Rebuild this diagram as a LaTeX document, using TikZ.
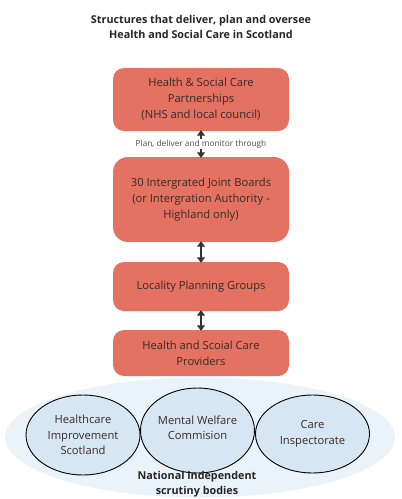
\documentclass[tikz,border=0pt]{standalone}
\usepackage{fontspec}
\setmainfont{Open Sans}
\usetikzlibrary{arrows.meta,shapes.geometric}
\definecolor{boxred}{HTML}{E37262}
\definecolor{boxtext}{HTML}{3A2A28}
\definecolor{paleblue}{HTML}{EAF3FA}
\definecolor{ovalblue}{HTML}{D6E7F3}
\definecolor{arrowgrey}{HTML}{333333}
\begin{document}
\begin{tikzpicture}[x=1pt,y=-1pt,
  redbox/.style={fill=boxred,rounded corners=11pt,minimum width=176pt,text=boxtext,
    font=\fontsize{11.2}{16}\selectfont,align=center,inner sep=0pt},
  oval/.style={ellipse,draw=black,line width=0.9pt,fill=ovalblue,minimum width=114pt,
    text=boxtext,font=\fontsize{11.2}{15.5}\selectfont,align=center,inner sep=0pt},
  link/.style={draw=arrowgrey,line width=1.1pt,{Triangle[width=8pt,length=5.5pt]}-{Triangle[width=8pt,length=5.5pt]}},
  half/.style={draw=arrowgrey,line width=1.1pt,-{Triangle[width=8pt,length=5.5pt]}}]
\useasboundingbox (0,0) rectangle (402,499);
\fill[white] (0,0) rectangle (402,499);
\node[font=\bfseries\fontsize{10.8}{15}\selectfont,text=black!85,align=center] (title) at (201,26.5)
  {Structures that deliver, plan and oversee\\Health and Social Care in Scotland};
\node[redbox,minimum height=63pt] (b1) at (201,99.5)
  {Health \& Social Care\\Partnerships\\(NHS and local council)};
\node[redbox,minimum height=85pt,rounded corners=15pt] (b2) at (201,199.5)
  {30 Intergrated Joint Boards\\(or Intergration Authority -\\Highland only)};
\node[redbox,minimum height=49pt] (b3) at (201,286.5) {Locality Planning Groups};
\node[redbox,minimum height=46pt] (b4) at (201,353) {Health and Scoial Care\\Providers};
\node[font=\fontsize{8.3}{9}\selectfont,text=black!70,inner sep=1pt] (lbl) at (201,144)
  {Plan, deliver and monitor through};
\draw[half] (lbl.north) -- ([yshift=1pt]b1.south);
\draw[half] (lbl.south) -- ([yshift=-1pt]b2.north);
\draw[link] ([yshift=1pt]b2.south) -- ([yshift=-1pt]b3.north);
\draw[link] ([yshift=1pt]b3.south) -- ([yshift=-1pt]b4.north);
\node[ellipse,fill=paleblue,minimum width=390pt,minimum height=120pt,inner sep=0pt] (bg) at (200,437.5) {};
\node[oval,minimum height=80pt] (e1) at (83,435) {Healthcare\\Improvement\\Scotland};
\node[oval,minimum height=85pt] (e2) at (197.5,430.5) {};
\node[text=boxtext,font=\fontsize{11.2}{15.5}\selectfont,align=center] (e2t) at (e2.center) [yshift=2.5pt] {Mental Welfare\\Commision};
\node[oval,minimum height=78pt] (e3) at (312.5,434) {Care\\Inspectorate};
\node[font=\bfseries\fontsize{10.8}{15}\selectfont,text=black!85,align=center] (nisb) at (197,484)
  {National independent\\scrutiny bodies};
\end{tikzpicture}
\end{document}
